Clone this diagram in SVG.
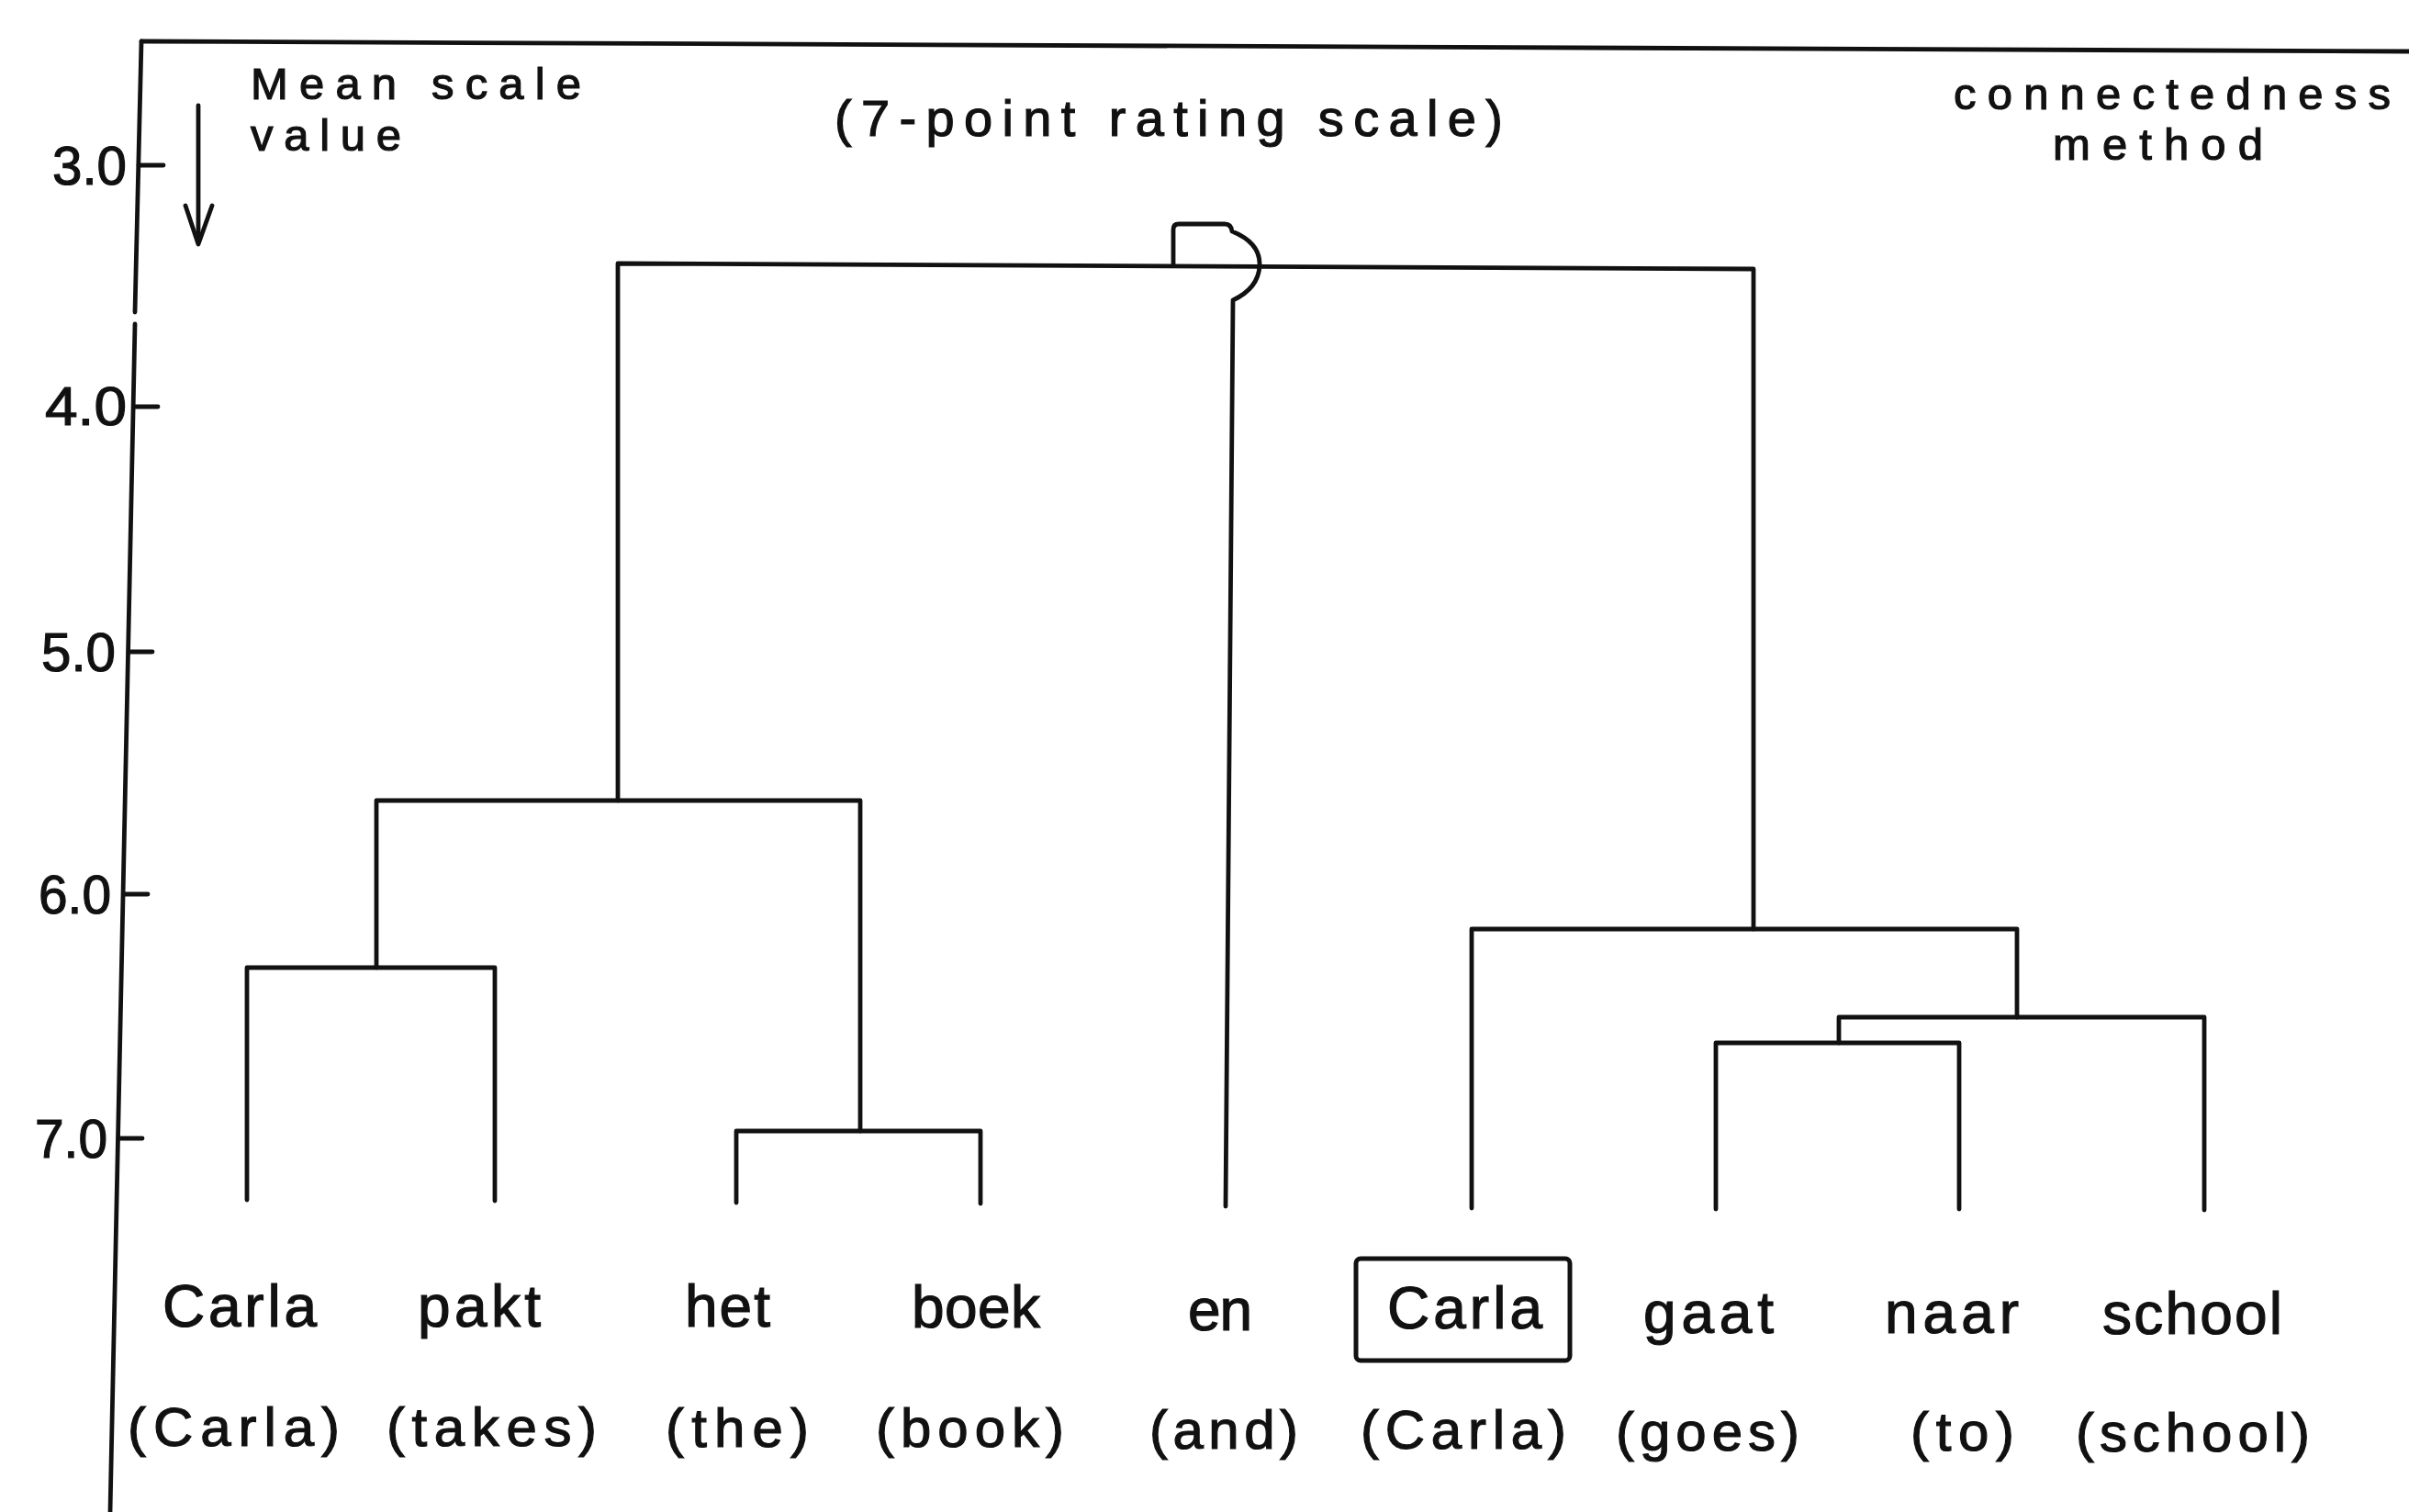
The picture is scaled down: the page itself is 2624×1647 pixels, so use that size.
<svg xmlns="http://www.w3.org/2000/svg" width="2624" height="1647" viewBox="0 0 2624 1647">
<style>
.ln{fill:none;stroke:#111;stroke-width:4.8;stroke-linecap:round;stroke-linejoin:round}
.t{font-family:"Liberation Sans","DejaVu Sans",sans-serif;fill:#111;stroke:#111;stroke-width:1.2}
.w1{font-size:64px}
.w2{font-size:60px}
.ax{font-size:60px}
.hd{font-size:56px}
.hs{font-size:49px}
</style>
<rect width="2624" height="1647" fill="#fff"/>
<g id="frame">
<path class="ln" d="M154,45 L2624,56"/>
<path class="ln" d="M154,45 L147,340 M147,353 L120,1647"/>
</g>
<g id="axis">
<path class="ln" d="M151,180 H178 M146,443 H172 M140,710 H166 M135,974 H161 M129,1240 H155"/>
<text class="t ax" x="57" y="201" textLength="81" lengthAdjust="spacingAndGlyphs">3.0</text>
<text class="t ax" x="49" y="463" textLength="89" lengthAdjust="spacingAndGlyphs">4.0</text>
<text class="t ax" x="45" y="731" textLength="81" lengthAdjust="spacingAndGlyphs">5.0</text>
<text class="t ax" x="42" y="995" textLength="79" lengthAdjust="spacingAndGlyphs">6.0</text>
<text class="t ax" x="38" y="1261" textLength="79" lengthAdjust="spacingAndGlyphs">7.0</text>
<path class="ln" d="M216,115 L216,264"/>
<path class="ln" d="M202,224 L216,266 L231,224"/>
<text class="t hs" x="273" y="108" textLength="360" lengthAdjust="spacing">Mean scale</text>
<text class="t hs" x="273" y="164" textLength="164" lengthAdjust="spacing">value</text>
</g>
<g id="titles">
<text class="t hd" x="909" y="148" textLength="728" lengthAdjust="spacing">(7-point rating scale)</text>
<text class="t hs" x="2128" y="119" textLength="476" lengthAdjust="spacing">connectedness</text>
<text class="t hs" x="2236" y="174" textLength="229" lengthAdjust="spacing">method</text>
</g>
<g id="connectors">
<path class="ln" d="M269,1307 V1054 H539 V1308"/>
<path class="ln" d="M802,1310 V1232 H1068 V1311"/>
<path class="ln" d="M410,1054 V872 H937 V1232"/>
<path class="ln" d="M673,872 V287 L1910,293 V1012"/>
<path class="ln" d="M1603,1316 V1012 H2197 V1108"/>
<path class="ln" d="M1869,1317 V1136 H2134 V1317"/>
<path class="ln" d="M2003,1136 V1108 H2401 V1318"/>
<path class="ln" d="M1278,289 V250 Q1278,244 1284,244 H1334 Q1341,244 1342,252 C1362,260 1373,273 1372,290 C1371,306 1362,318 1343,327 L1335,1314"/>
</g>
<g id="node-carla1">
<text class="t w1" x="177" y="1445" textLength="168" lengthAdjust="spacing">Carla</text>
<text class="t w2" x="139" y="1575" textLength="231" lengthAdjust="spacing">(Carla)</text>
</g>
<g id="node-pakt">
<text class="t w1" x="455" y="1445" textLength="134" lengthAdjust="spacing">pakt</text>
<text class="t w2" x="421" y="1575" textLength="229" lengthAdjust="spacing">(takes)</text>
</g>
<g id="node-het">
<text class="t w1" x="746" y="1445" textLength="93" lengthAdjust="spacing">het</text>
<text class="t w2" x="725" y="1576" textLength="156" lengthAdjust="spacing">(the)</text>
</g>
<g id="node-boek">
<text class="t w1" x="993" y="1446" textLength="140" lengthAdjust="spacing">boek</text>
<text class="t w2" x="954" y="1576" textLength="205" lengthAdjust="spacing">(book)</text>
</g>
<g id="node-en">
<text class="t w1" x="1294" y="1449" textLength="70" lengthAdjust="spacing">en</text>
<text class="t w2" x="1252" y="1578" textLength="162" lengthAdjust="spacing">(and)</text>
</g>
<g id="node-carla2">
<rect x="1477" y="1371" width="233" height="111" rx="5" fill="none" stroke="#111" stroke-width="5"/>
<text class="t w1" x="1511" y="1447" textLength="169" lengthAdjust="spacing">Carla</text>
<text class="t w2" x="1482" y="1578" textLength="224" lengthAdjust="spacing">(Carla)</text>
</g>
<g id="node-gaat">
<text class="t w1" x="1790" y="1452" textLength="142" lengthAdjust="spacing">gaat</text>
<text class="t w2" x="1760" y="1580" textLength="200" lengthAdjust="spacing">(goes)</text>
</g>
<g id="node-naar">
<text class="t w1" x="2053" y="1452" textLength="146" lengthAdjust="spacing">naar</text>
<text class="t w2" x="2081" y="1580" textLength="113" lengthAdjust="spacing">(to)</text>
</g>
<g id="node-school">
<text class="t w1" x="2290" y="1453" textLength="196" lengthAdjust="spacing">school</text>
<text class="t w2" x="2261" y="1581" textLength="255" lengthAdjust="spacing">(school)</text>
</g>
</svg>
